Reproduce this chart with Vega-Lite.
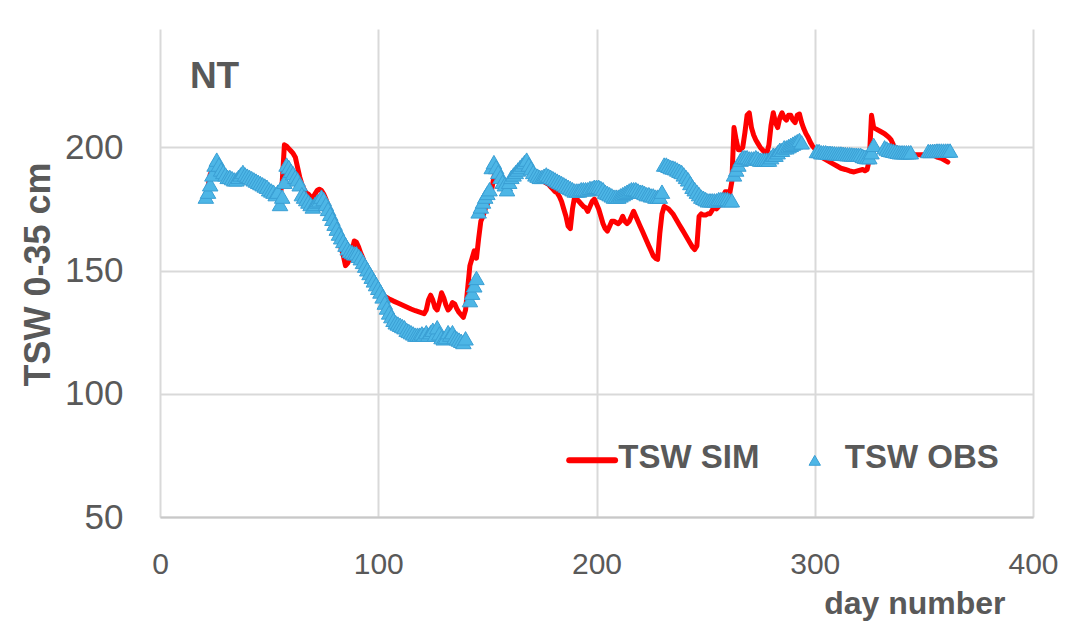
{
  "$schema": "https://vega.github.io/schema/vega-lite/v6.json",
  "width": 873,
  "height": 488,
  "autosize": {"type": "none"},
  "padding": {"left": 160, "top": 29, "right": 43, "bottom": 113},
  "background": "white",
  "config": {"view": {"stroke": null}, "font": "Liberation Sans"},
  "datasets": {
    "sim": [
      {"d":21,"v":181},{"d":22,"v":184},{"d":23,"v":189},{"d":24,"v":191},{"d":25,"v":193},{"d":26,"v":194},{"d":27,"v":192},{"d":28,"v":190.5},{"d":29,"v":189.5},{"d":30,"v":188.5},
      {"d":31,"v":188},{"d":32,"v":187.5},{"d":33,"v":187},{"d":34,"v":187},{"d":35,"v":187.5},{"d":36,"v":188},{"d":37,"v":189},{"d":38,"v":189.5},{"d":39,"v":189},{"d":40,"v":188.5},
      {"d":42,"v":187.5},{"d":44,"v":186.5},{"d":46,"v":185.5},{"d":48,"v":184.5},{"d":50,"v":183},{"d":52,"v":182},{"d":54,"v":181},{"d":55,"v":180},{"d":56,"v":186},{"d":57,"v":201},
      {"d":58,"v":200.5},{"d":59,"v":199.5},{"d":60,"v":198.5},{"d":61,"v":197.5},{"d":62,"v":196},{"d":63,"v":192},{"d":64,"v":188},{"d":65,"v":185},{"d":66,"v":183},{"d":67,"v":181.5},
      {"d":68,"v":181},{"d":69,"v":180},{"d":70,"v":179.5},{"d":71,"v":181},{"d":72,"v":182.5},{"d":73,"v":183},{"d":74,"v":182.5},{"d":75,"v":181},{"d":76,"v":179},{"d":77,"v":176.5},
      {"d":78,"v":174},{"d":79,"v":171},{"d":80,"v":168},{"d":81,"v":165},{"d":82,"v":162},{"d":83,"v":159},{"d":84,"v":156},{"d":85,"v":152},{"d":86,"v":153},{"d":87,"v":155},
      {"d":88,"v":158},{"d":89,"v":162},{"d":90,"v":161.5},{"d":91,"v":159.5},{"d":92,"v":157},{"d":93,"v":155},{"d":94,"v":152.5},{"d":95,"v":150},{"d":96,"v":148},{"d":97,"v":146},
      {"d":98,"v":144.5},{"d":99,"v":143},{"d":100,"v":142},{"d":101,"v":141},{"d":102,"v":140},{"d":103,"v":139.5},{"d":104,"v":139},{"d":105,"v":138.5},{"d":107,"v":137.6},{"d":109,"v":136.8},
      {"d":111,"v":136},{"d":113,"v":135.2},{"d":115,"v":134.4},{"d":117,"v":133.7},{"d":119,"v":133.1},{"d":121,"v":132.5},{"d":122,"v":134},{"d":123,"v":138},{"d":124,"v":140},{"d":125,"v":138},
      {"d":126,"v":135},{"d":127,"v":134},{"d":128,"v":137},{"d":129,"v":141},{"d":130,"v":139},{"d":131,"v":136},{"d":132,"v":134},{"d":133,"v":135},{"d":134,"v":137},{"d":135,"v":136.5},
      {"d":136,"v":134.5},{"d":137,"v":133},{"d":138,"v":132},{"d":139,"v":131},{"d":140,"v":134},{"d":141,"v":143},{"d":142,"v":152},{"d":143,"v":155},{"d":144,"v":158},{"d":145,"v":155},
      {"d":146,"v":163},{"d":147,"v":170},{"d":148,"v":172},{"d":149,"v":175},{"d":150,"v":177},{"d":151,"v":180},{"d":152,"v":183},{"d":153,"v":188},{"d":154,"v":190},{"d":155,"v":189},
      {"d":156,"v":187},{"d":157,"v":186},{"d":158,"v":185},{"d":159,"v":185},{"d":160,"v":186},{"d":162,"v":188.5},{"d":164,"v":190.5},{"d":166,"v":192.5},{"d":167,"v":193.5},{"d":168,"v":193},
      {"d":169,"v":191},{"d":170,"v":190},{"d":171,"v":189},{"d":172,"v":188},{"d":174,"v":187},{"d":176,"v":186},{"d":178,"v":185},{"d":179,"v":184},{"d":180,"v":183},{"d":181,"v":182},
      {"d":182,"v":181.5},{"d":183,"v":180},{"d":184,"v":178},{"d":185,"v":175},{"d":186,"v":172},{"d":187,"v":168},{"d":188,"v":167},{"d":189,"v":175},{"d":190,"v":180},{"d":191,"v":179},
      {"d":192,"v":178},{"d":193,"v":177},{"d":194,"v":176},{"d":195,"v":175.5},{"d":196,"v":174},{"d":197,"v":176},{"d":198,"v":178},{"d":199,"v":179},{"d":200,"v":177},{"d":201,"v":175},
      {"d":202,"v":172},{"d":203,"v":169},{"d":204,"v":167},{"d":205,"v":166},{"d":206,"v":168},{"d":207,"v":170},{"d":208,"v":170},{"d":209,"v":169.5},{"d":210,"v":169},{"d":211,"v":170},
      {"d":212,"v":172},{"d":213,"v":170},{"d":214,"v":169},{"d":215,"v":170},{"d":216,"v":172},{"d":217,"v":174},{"d":218,"v":172},{"d":219,"v":170},{"d":220,"v":168},{"d":221,"v":166},
      {"d":222,"v":164},{"d":223,"v":162},{"d":224,"v":160},{"d":225,"v":158},{"d":226,"v":156},{"d":227,"v":155},{"d":228,"v":154.5},{"d":229,"v":165},{"d":230,"v":173},{"d":231,"v":176},
      {"d":232,"v":175.5},{"d":233,"v":175},{"d":234,"v":174},{"d":235,"v":173},{"d":236,"v":171.5},{"d":237,"v":170},{"d":238,"v":168.5},{"d":239,"v":167},{"d":240,"v":165.5},{"d":241,"v":164},
      {"d":242,"v":162.5},{"d":243,"v":161},{"d":244,"v":159.5},{"d":245,"v":158.5},{"d":246,"v":160},{"d":247,"v":172},{"d":248,"v":173},{"d":249,"v":172.5},{"d":250,"v":172.5},{"d":251,"v":173},
      {"d":252,"v":173},{"d":253,"v":174.5},{"d":254,"v":176},{"d":255,"v":175},{"d":256,"v":176},{"d":257,"v":178},{"d":258,"v":180},{"d":259,"v":182},{"d":260,"v":182},{"d":261,"v":181},
      {"d":262,"v":186},{"d":263,"v":208},{"d":264,"v":203},{"d":265,"v":199},{"d":266,"v":199},{"d":267,"v":200},{"d":268,"v":206},{"d":269,"v":213},{"d":270,"v":214},{"d":271,"v":208},
      {"d":272,"v":205},{"d":273,"v":203},{"d":274,"v":201.5},{"d":275,"v":200},{"d":276,"v":199},{"d":277,"v":198},{"d":278,"v":197.5},{"d":279,"v":201},{"d":280,"v":209},{"d":281,"v":214},
      {"d":282,"v":210},{"d":283,"v":208},{"d":284,"v":212},{"d":285,"v":214},{"d":286,"v":212},{"d":287,"v":211},{"d":288,"v":213},{"d":289,"v":213},{"d":290,"v":211},{"d":291,"v":210},
      {"d":292,"v":213},{"d":293,"v":213.5},{"d":294,"v":210},{"d":295,"v":207.5},{"d":296,"v":205.5},{"d":297,"v":204},{"d":298,"v":202},{"d":299,"v":200.5},{"d":300,"v":199.5},{"d":301,"v":198.5},
      {"d":302,"v":196.5},{"d":303,"v":196},{"d":304,"v":195.5},{"d":306,"v":194.5},{"d":308,"v":193.5},{"d":310,"v":192.5},{"d":312,"v":191.5},{"d":314,"v":191},{"d":316,"v":190.4},{"d":318,"v":190},
      {"d":320,"v":190.5},{"d":322,"v":191},{"d":323,"v":190.5},{"d":324,"v":191},{"d":325,"v":195},{"d":326,"v":213},{"d":327,"v":208},{"d":328,"v":207.5},{"d":330,"v":206.5},{"d":332,"v":205.5},
      {"d":334,"v":204},{"d":335,"v":203},{"d":336,"v":201},{"d":337,"v":199.5},{"d":338,"v":198.5},{"d":339,"v":198},{"d":340,"v":197.5},{"d":342,"v":197},{"d":345,"v":197},{"d":348,"v":197},
      {"d":351,"v":197},{"d":354,"v":197},{"d":356,"v":196},{"d":358,"v":195.5},{"d":360,"v":194.5},{"d":361,"v":194}
    ],
    "obs": [
      {"d":21,"v":180},{"d":22,"v":182},{"d":23,"v":185},{"d":24,"v":189},{"d":25,"v":193},{"d":26,"v":195},{"d":27,"v":193},{"d":28,"v":191},{"d":29,"v":190},{"d":30,"v":189},
      {"d":31,"v":188},{"d":32,"v":188},{"d":33,"v":187.5},{"d":34,"v":187},{"d":35,"v":187},{"d":36,"v":188},{"d":37,"v":189},{"d":38,"v":190},{"d":39,"v":189},{"d":40,"v":188.5},
      {"d":41,"v":188},{"d":42,"v":187.5},{"d":43,"v":187},{"d":44,"v":186.5},{"d":45,"v":186},{"d":46,"v":185.5},{"d":47,"v":185},{"d":48,"v":184.5},{"d":49,"v":184},{"d":50,"v":183},
      {"d":51,"v":182.5},{"d":52,"v":182},{"d":53,"v":181},{"d":54,"v":182},{"d":55,"v":177},{"d":56,"v":180},{"d":57,"v":186},{"d":58,"v":193},{"d":59,"v":192},{"d":60,"v":190.5},
      {"d":61,"v":189.5},{"d":62,"v":188},{"d":63,"v":187},{"d":64,"v":185},{"d":65,"v":181},{"d":66,"v":180},{"d":67,"v":179},{"d":68,"v":178},{"d":69,"v":177},{"d":70,"v":176},
      {"d":71,"v":177},{"d":72,"v":178},{"d":73,"v":178.5},{"d":74,"v":180},{"d":75,"v":179},{"d":76,"v":177},{"d":77,"v":175},{"d":78,"v":173},{"d":79,"v":171},{"d":80,"v":169},
      {"d":81,"v":167},{"d":82,"v":165},{"d":83,"v":163.5},{"d":84,"v":162},{"d":85,"v":160.5},{"d":86,"v":159},{"d":87,"v":158},{"d":88,"v":157.5},{"d":89,"v":157},{"d":90,"v":157},
      {"d":91,"v":156},{"d":92,"v":155},{"d":93,"v":153.5},{"d":94,"v":152},{"d":95,"v":150.5},{"d":96,"v":149},{"d":97,"v":147.5},{"d":98,"v":146},{"d":99,"v":144.5},{"d":100,"v":143},
      {"d":101,"v":141.5},{"d":102,"v":139.5},{"d":103,"v":137},{"d":104,"v":135},{"d":105,"v":133},{"d":106,"v":131.5},{"d":107,"v":130},{"d":108,"v":129},{"d":109,"v":128.5},{"d":110,"v":128},
      {"d":111,"v":127.5},{"d":112,"v":127},{"d":113,"v":126},{"d":114,"v":125.5},{"d":115,"v":125},{"d":116,"v":124.5},{"d":117,"v":124},{"d":118,"v":124},{"d":119,"v":124},{"d":120,"v":124.5},
      {"d":121,"v":124},{"d":122,"v":125},{"d":123,"v":124},{"d":124,"v":125},{"d":125,"v":126},{"d":126,"v":124},{"d":127,"v":127},{"d":128,"v":124.5},{"d":129,"v":123},{"d":130,"v":122.5},
      {"d":131,"v":123},{"d":132,"v":125},{"d":133,"v":124},{"d":134,"v":125},{"d":135,"v":123},{"d":136,"v":122.5},{"d":137,"v":122},{"d":138,"v":121.5},{"d":139,"v":121},{"d":140,"v":122.5},
      {"d":142,"v":138},{"d":143,"v":141},{"d":144,"v":144},{"d":145,"v":147},{"d":146,"v":174},{"d":147,"v":176},{"d":148,"v":178},{"d":149,"v":180},{"d":150,"v":181.5},{"d":151,"v":183},
      {"d":152,"v":192},{"d":153,"v":194},{"d":154,"v":192},{"d":155,"v":190},{"d":156,"v":188},{"d":157,"v":186},{"d":158,"v":185},{"d":159,"v":183},{"d":160,"v":186},{"d":161,"v":188},
      {"d":162,"v":189},{"d":163,"v":190},{"d":164,"v":191},{"d":165,"v":192},{"d":166,"v":193},{"d":167,"v":194},{"d":168,"v":195},{"d":169,"v":193},{"d":170,"v":191.5},{"d":171,"v":190},
      {"d":172,"v":189},{"d":173,"v":188.5},{"d":174,"v":188},{"d":175,"v":188},{"d":176,"v":188.5},{"d":177,"v":189},{"d":178,"v":188.5},{"d":179,"v":188},{"d":180,"v":187.5},{"d":181,"v":187},
      {"d":182,"v":186.5},{"d":183,"v":186},{"d":184,"v":185.5},{"d":185,"v":185},{"d":186,"v":184.5},{"d":187,"v":184},{"d":188,"v":183.5},{"d":189,"v":183},{"d":190,"v":182.5},{"d":191,"v":182.5},
      {"d":192,"v":182.5},{"d":193,"v":183},{"d":194,"v":183},{"d":195,"v":183},{"d":196,"v":183},{"d":197,"v":183.5},{"d":198,"v":183.5},{"d":199,"v":184},{"d":200,"v":184},{"d":201,"v":184},
      {"d":202,"v":183.5},{"d":203,"v":183},{"d":204,"v":182},{"d":205,"v":181.5},{"d":206,"v":181},{"d":207,"v":180.5},{"d":208,"v":180},{"d":209,"v":180},{"d":210,"v":180},{"d":211,"v":180.5},
      {"d":212,"v":181},{"d":213,"v":181.5},{"d":214,"v":182},{"d":215,"v":182.5},{"d":216,"v":183},{"d":217,"v":183},{"d":218,"v":183},{"d":219,"v":182.5},{"d":220,"v":182},{"d":221,"v":182},
      {"d":222,"v":181.5},{"d":223,"v":181},{"d":224,"v":181},{"d":225,"v":180.5},{"d":226,"v":180.5},{"d":227,"v":180},{"d":228,"v":180},{"d":229,"v":180},{"d":230,"v":182},{"d":231,"v":193},
      {"d":232,"v":193},{"d":233,"v":192.5},{"d":234,"v":192},{"d":235,"v":191.8},{"d":236,"v":191.5},{"d":237,"v":191},{"d":238,"v":190.5},{"d":239,"v":190},{"d":240,"v":189},{"d":241,"v":188},
      {"d":242,"v":187},{"d":243,"v":185.5},{"d":244,"v":184},{"d":245,"v":183},{"d":246,"v":182},{"d":247,"v":181},{"d":248,"v":180},{"d":249,"v":179.5},{"d":250,"v":179},{"d":251,"v":178.5},
      {"d":252,"v":178.5},{"d":253,"v":178.5},{"d":254,"v":178.5},{"d":255,"v":178.5},{"d":256,"v":179},{"d":257,"v":179},{"d":258,"v":179},{"d":259,"v":179},{"d":260,"v":179},{"d":261,"v":178.5},
      {"d":262,"v":178.5},{"d":263,"v":189},{"d":264,"v":191},{"d":265,"v":193},{"d":266,"v":195},{"d":267,"v":196},{"d":268,"v":196},{"d":269,"v":196},{"d":270,"v":195.5},{"d":271,"v":195.5},
      {"d":272,"v":195.5},{"d":273,"v":196},{"d":274,"v":195.5},{"d":275,"v":195},{"d":276,"v":195},{"d":277,"v":195},{"d":278,"v":195},{"d":279,"v":195},{"d":280,"v":196},{"d":281,"v":197},
      {"d":282,"v":197},{"d":283,"v":198},{"d":284,"v":199},{"d":285,"v":199},{"d":286,"v":200},{"d":287,"v":200},{"d":288,"v":200.5},{"d":289,"v":201},{"d":290,"v":201.5},{"d":291,"v":202},
      {"d":292,"v":202.5},{"d":293,"v":203},{"d":294,"v":202},{"d":301,"v":198.5},{"d":302,"v":198.5},{"d":303,"v":198},{"d":304,"v":198},{"d":305,"v":198},{"d":306,"v":197.8},{"d":307,"v":197.8},
      {"d":308,"v":197.7},{"d":309,"v":197.6},{"d":310,"v":197.5},{"d":311,"v":197.5},{"d":312,"v":197.5},{"d":313,"v":197.4},{"d":314,"v":197.3},{"d":315,"v":197.2},{"d":316,"v":197.2},{"d":317,"v":197.1},
      {"d":318,"v":197},{"d":319,"v":197},{"d":320,"v":197},{"d":321,"v":197},{"d":322,"v":196.5},{"d":323,"v":196.2},{"d":324,"v":196},{"d":325,"v":196},{"d":326,"v":198},{"d":327,"v":201},
      {"d":332,"v":200},{"d":333,"v":199.5},{"d":334,"v":199},{"d":335,"v":198.8},{"d":336,"v":198.6},{"d":337,"v":198.4},{"d":338,"v":198.2},{"d":339,"v":198},{"d":340,"v":198},{"d":341,"v":198},
      {"d":342,"v":198},{"d":343,"v":198},{"d":344,"v":198},{"d":352,"v":198.5},{"d":353,"v":198.5},{"d":354,"v":198.6},{"d":355,"v":198.6},{"d":356,"v":198.7},{"d":357,"v":198.7},{"d":358,"v":198.7},
      {"d":359,"v":198.7},{"d":360,"v":198.7},{"d":361,"v":198.7},{"d":362,"v":198.7}
    ]
  },
  "layer": [
    {
      "data": {"name": "sim"},
      "mark": {"type": "line", "color": "#ff0000", "strokeWidth": 5, "strokeJoin": "round", "strokeCap": "round"},
      "encoding": {
        "x": {
          "field": "d",
          "type": "quantitative",
          "scale": {"domain": [0, 400], "nice": false},
          "axis": {
            "values": [0, 100, 200, 300, 400],
            "format": "d",
            "title": "day number",
            "titleFontSize": 32,
            "titleFontWeight": "bold",
            "titleColor": "#595959",
            "titleAlign": "right",
            "titleBaseline": "alphabetic",
            "titleX": 845,
            "titleY": 96,
            "labelFontSize": 30,
            "labelColor": "#595959",
            "labelPadding": 32,
            "labelFlush": false,
            "ticks": false,
            "domainColor": "#c8c8c8",
            "domainWidth": 2,
            "gridColor": "#d9d9d9",
            "gridWidth": 2
          }
        },
        "y": {
          "field": "v",
          "type": "quantitative",
          "scale": {"domain": [50, 248], "nice": false, "zero": false},
          "axis": {
            "values": [50, 100, 150, 200],
            "title": "TSW 0-35 cm",
            "titleFontSize": 36,
            "titleFontWeight": "bold",
            "titleColor": "#595959",
            "titleAngle": 270,
            "titleAlign": "center",
            "titleBaseline": "alphabetic",
            "titleX": -111,
            "titleY": 245,
            "labelFontSize": 35,
            "labelColor": "#595959",
            "labelPadding": 37,
            "ticks": false,
            "domain": false,
            "gridColor": "#d9d9d9",
            "gridWidth": 2
          }
        }
      }
    },
    {
      "data": {"name": "obs"},
      "mark": {"type": "point", "shape": "triangle-up", "filled": true, "size": 240, "opacity": 1, "fill": "#4db6e6", "stroke": "#3a9fd4", "strokeWidth": 1},
      "encoding": {
        "x": {"field": "d", "type": "quantitative", "title": "day number"},
        "y": {"field": "v", "type": "quantitative", "title": "TSW 0-35 cm"}
      }
    },
    {
      "data": {"values": [{"site": "NT"}]},
      "mark": {"type": "text", "align": "left", "baseline": "alphabetic", "fontSize": 37, "fontWeight": "bold", "color": "#595959"},
      "encoding": {
        "x": {"datum": 13.7, "type": "quantitative", "title": "day number"},
        "y": {"datum": 224, "type": "quantitative", "title": "TSW 0-35 cm"},
        "text": {"field": "site"}
      }
    },
    {
      "data": {"values": [{"series": "TSW SIM"}]},
      "mark": {"type": "rule", "color": "#ff0000", "strokeWidth": 6, "strokeCap": "round"},
      "encoding": {
        "x": {"datum": 187.5, "type": "quantitative", "title": "day number"},
        "x2": {"datum": 208.5},
        "y": {"datum": 73, "type": "quantitative", "title": "TSW 0-35 cm"}
      }
    },
    {
      "data": {"values": [{"series": "TSW OBS"}]},
      "mark": {"type": "point", "shape": "triangle-up", "filled": true, "size": 130, "opacity": 1, "fill": "#4db6e6", "stroke": "#3a9fd4", "strokeWidth": 1},
      "encoding": {
        "x": {"datum": 300, "type": "quantitative", "title": "day number"},
        "y": {"datum": 73, "type": "quantitative", "title": "TSW 0-35 cm"}
      }
    },
    {
      "data": {"values": [{"series": "TSW SIM"}]},
      "mark": {"type": "text", "align": "left", "baseline": "middle", "fontSize": 33, "fontWeight": "bold", "color": "#595959"},
      "encoding": {
        "x": {"datum": 210, "type": "quantitative", "title": "day number"},
        "y": {"datum": 74, "type": "quantitative", "title": "TSW 0-35 cm"},
        "text": {"field": "series"}
      }
    },
    {
      "data": {"values": [{"series": "TSW OBS"}]},
      "mark": {"type": "text", "align": "left", "baseline": "middle", "fontSize": 33, "fontWeight": "bold", "color": "#595959"},
      "encoding": {
        "x": {"datum": 313.8, "type": "quantitative", "title": "day number"},
        "y": {"datum": 74, "type": "quantitative", "title": "TSW 0-35 cm"},
        "text": {"field": "series"}
      }
    }
  ]
}
